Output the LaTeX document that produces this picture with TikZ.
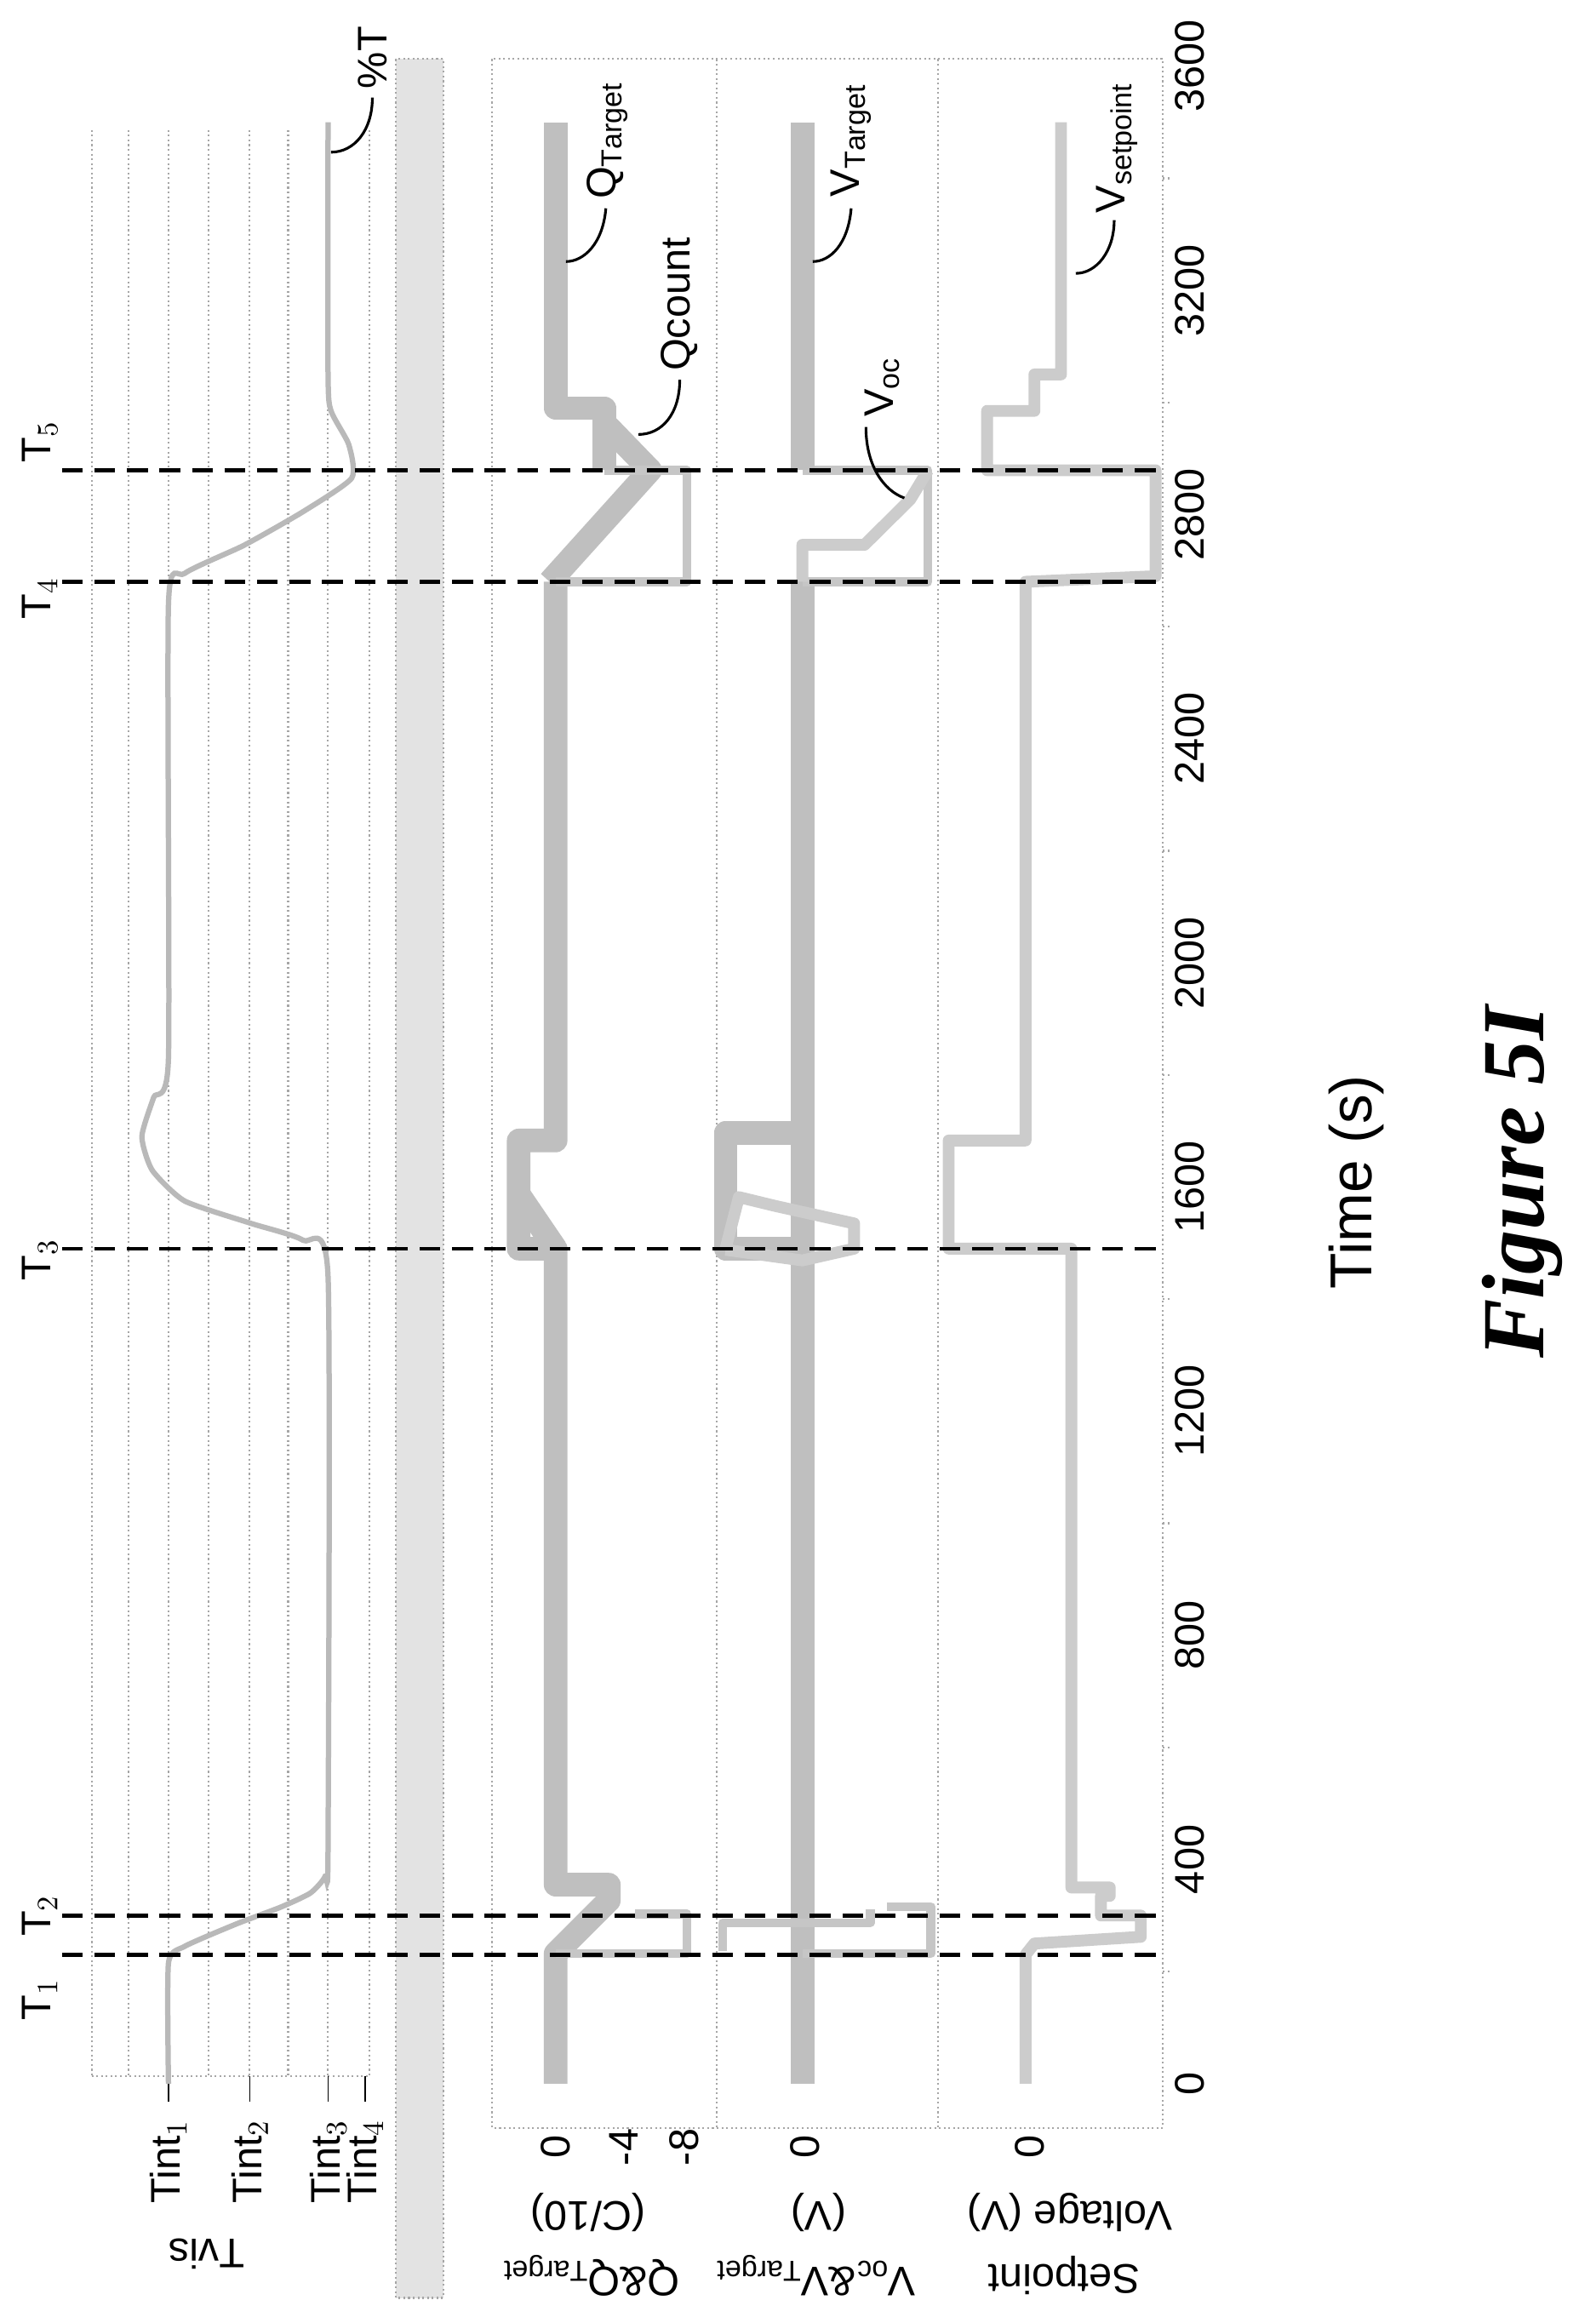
\documentclass[tikz,border=0pt]{standalone}
\usepackage{fontspec}
\setmainfont{Liberation Sans}
\newfontfamily\figfont{Liberation Serif}
\begin{document}
\begin{tikzpicture}[x=0.5pt,y=-0.5pt,
  frame/.style={densely dotted, gray!70, line width=0.6pt},
  tdash/.style={black, line width=1.3pt, dash pattern=on 7pt off 4pt},
  band/.style={gray!50, line width=8pt, line join=round},
  thinband/.style={gray!45, line width=3pt, line join=round},
  lightband/.style={gray!40, line width=4pt, line join=round},
  tcurve/.style={gray!55, line width=1.8pt},
  lab/.style={font=\fontsize{14}{16}\selectfont, inner sep=1pt},
  tick/.style={font=\fontsize{14}{16}\selectfont, rotate=90, inner sep=1pt},
  lead/.style={black, line width=0.9pt}]
\useasboundingbox (0,0) rectangle (1080,1572);
\fill[white] (0,0) rectangle (1080,1572);
% gray band
\fill[gray!22] (268,40) rectangle (300,1555);
\draw[frame] (268,40) rectangle (300,1555);
% lower frame
\draw[frame] (333,40) rectangle (787,1440);
\draw[frame] (485,40) -- (485,1440);
\draw[frame] (635,40) -- (635,1440);
% Tvis grid
\foreach \gx in {62,87,114,141,169,195,222,250} {\draw[frame] (\gx,88) -- (\gx,1405);}
\draw[frame] (62,1405) -- (250,1405);
\foreach \gx in {114,169,222,247} {\draw[black, line width=0.5pt] (\gx,1405) -- (\gx,1422);}
\node[lab, rotate=90, anchor=east] (ti1) at (114,1432) {Tint$_1$};
\node[lab, rotate=90, anchor=east] (ti2) at (169,1432) {Tint$_2$};
\node[lab, rotate=90, anchor=east] (ti3) at (222,1432) {Tint$_3$};
\node[lab, rotate=90, anchor=east] (ti4) at (247,1432) {Tint$_4$};
% axis labels (upside down)
\node[lab, rotate=180] (tvis) at (140,1525) {Tvis};
\node[lab, rotate=180] (ql1) at (400,1540) {Q\&Q$_{\mathrm{Target}}$};
\node[lab, rotate=180] (ql2) at (398,1497) {(C/10)};
\node[lab, rotate=180] (vl1) at (552,1540) {V$_{\mathrm{oc}}$\&V$_{\mathrm{Target}}$};
\node[lab, rotate=180] (vl2) at (554,1497) {(V)};
\node[lab, rotate=180] (sl1) at (720,1540) {Setpoint};
\node[lab, rotate=180] (sl2) at (724,1497) {Voltage (V)};
% value ticks
\node[tick] (q0) at (376,1453) {0};
\node[tick] (q4) at (422,1453) {-4};
\node[tick] (q8) at (463,1453) {-8};
\node[tick] (v0) at (545,1453) {0};
\node[tick] (s0) at (697,1453) {0};
% time ticks
\begin{scope}[yshift=-705pt, y=0.1896pt]
\foreach \tv in {0,400,...,3600} {\node[tick] (tk\tv) at (805,\tv) {\tv};}
\foreach \tv in {200,600,...,3400} {\draw[frame] (787,\tv) -- (793,\tv);}
% Tvis curve
\draw[tcurve] plot[smooth, tension=0.35] coordinates {(114,0) (114,215) (125,245) (160,285) (190,315) (210,340) (220,370) (222,420) (222,1440) (205,1505) (170,1535) (125,1575) (103,1630) (96,1690) (104,1760) (114,1830) (114,2640) (125,2695) (165,2745) (205,2805) (238,2865) (236,2925) (224,2985) (222,3050) (222,3500)};
% Q panel
\draw[band] (376,0) -- (376,232) -- (412,327) -- (412,355) -- (376,355) -- (376,1490) -- (351,1490) -- (351,1683) -- (376,1683) -- (376,2680);
\draw[thinband] (376,232) -- (465,232) -- (465,303) -- (430,303);
\draw[band] (376,1490) -- (351,1587);
\draw[band] (372,2680) -- (440,2879) -- (407,2969);
\draw[thinband] (376,2680) -- (465,2680) -- (465,2879) -- (409,2879);
\draw[band] (409,2879) -- (409,2990) -- (376,2990) -- (376,3500);
% V panel
\draw[band] (543,0) -- (543,2680);
\draw[thinband] (489,237) -- (489,287) -- (589,287) -- (589,311);
\draw[thinband] (543,232) -- (630,232) -- (630,316) -- (600,316);
\draw[band] (543,1490) -- (491,1490) -- (491,1697) -- (543,1697);
\draw[lightband] (491,1490) -- (500,1582) -- (525,1566) -- (578,1535) -- (578,1490) -- (543,1469) -- (491,1488);
\draw[thinband] (543,2680) -- (628,2680) -- (628,2879) -- (543,2879);
\draw[lightband] (543,2680) -- (543,2746) -- (585,2746) -- (616,2827) -- (628,2879);
\draw[band] (543,2879) -- (543,3500);
% Setpoint panel
\draw[lightband] (694,0) -- (694,230) -- (700,250) -- (772,262) -- (772,300) -- (745,300) -- (745,335) -- (751,335) -- (751,350) -- (725,350) -- (725,1490) -- (642,1490) -- (642,1683) -- (694,1683) -- (694,2680) -- (782,2690) -- (782,2879) -- (668,2879) -- (668,2985) -- (700,2985) -- (700,3050) -- (718,3050) -- (718,3500);
% T lines
\coordinate (d1a) at (42,230); \coordinate (d1b) at (787,230);
\coordinate (d2a) at (42,300); \coordinate (d2b) at (787,300);
\coordinate (d3a) at (42,1490); \coordinate (d3b) at (787,1490);
\coordinate (d4a) at (42,2680); \coordinate (d4b) at (787,2680);
\coordinate (d5a) at (42,2879); \coordinate (d5b) at (787,2879);
\foreach \i in {1,...,5} {\draw[tdash] (d\i a) -- (d\i b);}
\node[lab, rotate=90] (T1) at (27,150) {T$_1$};
\node[lab, rotate=90] (T2) at (27,300) {T$_2$};
\node[lab, rotate=90] (T3) at (27,1470) {T$_3$};
\node[lab, rotate=90] (T4) at (27,2650) {T$_4$};
\node[lab, rotate=90] (T5) at (27,2930) {T$_5$};
\end{scope}
% series labels
\node[lab, rotate=90] (lqt) at (411,95) {Q$_{\mathrm{Target}}$};
\draw[lead] (410,141) .. controls (408,165) and (395,177) .. (383,177);
\node[lab, rotate=90] (lqc) at (460,206) {Qcount};
\draw[lead] (460,257) .. controls (460,280) and (448,294) .. (432,294);
\node[lab, rotate=90] (lvt) at (576,95) {V$_{\mathrm{Target}}$};
\draw[lead] (576,141) .. controls (574,165) and (562,177) .. (550,177);
\node[lab, rotate=90] (lvo) at (597,262) {V$_{\mathrm{oc}}$};
\draw[lead] (586,289) .. controls (586,315) and (598,332) .. (612,337);
\node[lab, rotate=90] (lvs) at (756,100) {V$_{\mathrm{setpoint}}$};
\draw[lead] (754,149) .. controls (754,170) and (742,185) .. (728,185);
\node[lab, rotate=90] (lpt) at (252,39) {\%T};
\draw[lead] (252,66) .. controls (252,88) and (240,103) .. (224,103);
% titles
\node[rotate=90, font=\fontsize{20}{24}\selectfont] (time) at (918,800) {Time (s)};
\node[rotate=90, font=\figfont\bfseries\itshape\fontsize{30}{36}\selectfont] (fig) at (1030,800) {Figure 5I};
\end{tikzpicture}
\end{document}
